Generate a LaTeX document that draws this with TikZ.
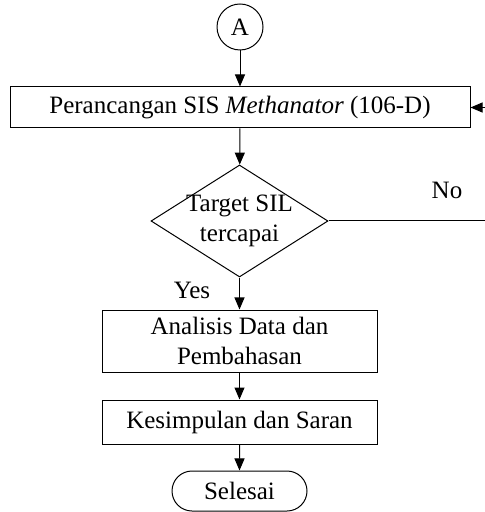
\documentclass[tikz,border=0pt]{standalone}
\usepackage{fontspec}
\setmainfont{Liberation Serif}
\usetikzlibrary{shapes.geometric,shapes.misc,arrows.meta}
\begin{document}
\begin{tikzpicture}[x=0.5pt,y=-0.5pt,
  font=\fontsize{12.5}{15}\selectfont,
  every path/.style={line width=0.5pt},
  flow/.style={-{Triangle[length=6pt,width=5pt]}},
  procbox/.style={draw,rectangle,inner sep=0pt,align=center},
  conn/.style={draw,circle,inner sep=0pt,minimum size=23pt},
  decide/.style={draw,diamond,inner sep=0pt,aspect=1.58,minimum width=88.5pt,minimum height=56pt},
  term/.style={draw,rounded rectangle,inner sep=0pt,minimum width=67.5pt,minimum height=20pt}]
\useasboundingbox (0,0) rectangle (485,512);
% connector and process steps
\node[conn] (a) at (240,27) {A};
\node[procbox,minimum width=230pt,minimum height=20.5pt] (design) at (240,107.5)
  {Perancangan SIS \textit{Methanator} (106-D)};
\node[decide] (sil) at (239.5,221) {};
\node[align=center,inner sep=0pt] (siltext) at (sil.center) {Target SIL\\tercapai};
\node[procbox,minimum width=137.5pt,minimum height=31pt] (analysis) at (239.5,341)
  {Analisis Data dan\\Pembahasan};
\node[procbox,minimum width=137.5pt,minimum height=22pt] (concl) at (239.5,422)
  {Kesimpulan dan Saran};
\node[term] (end) at (239.5,491) {Selesai};
% loose ends at the right border
\coordinate (noend) at (485,221);
\coordinate (back) at (485,107.5);
% connectors
\draw[flow] (a) -- (design);
\draw[flow] (design) -- (sil);
\draw[flow] (sil) -- (analysis);
\draw[flow] (analysis) -- (concl);
\draw[flow] (concl) -- (end);
\draw (sil.east) -- (noend);
\draw[flow] (back) -- (design.east);
% branch labels
\node (no) at (447,190) {No};
\node (yes) at (192,290) {Yes};
\end{tikzpicture}
\end{document}
